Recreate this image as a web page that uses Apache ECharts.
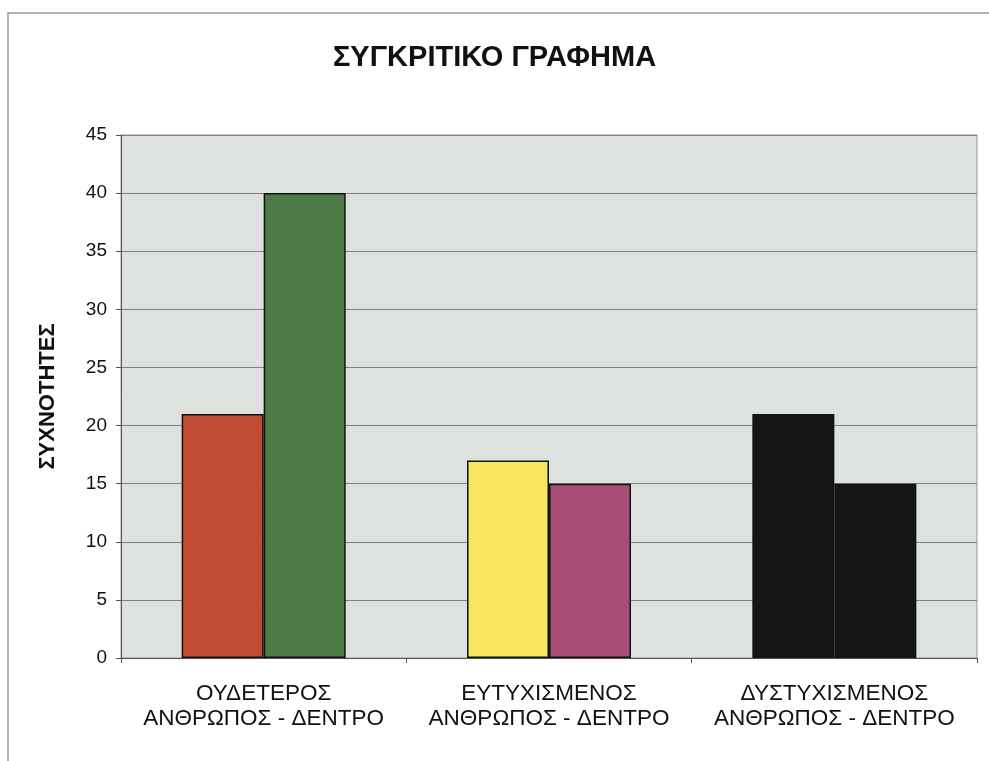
<!DOCTYPE html>
<html>
<head>
<meta charset="utf-8">
<script src="https://cdn.jsdelivr.net/npm/echarts@6/dist/echarts.min.js"></script>
<style>
  html, body { margin: 0; padding: 0; background: #fff; }
  #chart { width: 989px; height: 761px; }
</style>
</head>
<body>
<div id="chart"></div>
<script>
const categories = ['ΟΥΔΕΤΕΡΟΣ\nΑΝΘΡΩΠΟΣ - ΔΕΝΤΡΟ', 'ΕΥΤΥΧΙΣΜΕΝΟΣ\nΑΝΘΡΩΠΟΣ - ΔΕΝΤΡΟ', 'ΔΥΣΤΥΧΙΣΜΕΝΟΣ\nΑΝΘΡΩΠΟΣ - ΔΕΝΤΡΟ'];
const humanValues = [21, 17, 21];
const treeValues = [40, 15, 15];
const humanColors = ['#c24b33', '#f7e65e', '#161616'];
const treeColors = ['#4d7a47', '#a94d78', '#161616'];

var chart = echarts.init(document.getElementById('chart'));
var option = {
    backgroundColor: '#fff',
    title: {
        text: 'ΣΥΓΚΡΙΤΙΚΟ ΓΡΑΦΗΜΑ',
        left: 'center',
        top: 38,
        textStyle: { fontFamily: 'Liberation Sans', fontWeight: 'bold', fontSize: 29, color: '#111' }
    },
    graphic: [{
        type: 'rect',
        shape: { x: 8, y: 13, width: 990, height: 760 },
        style: { fill: 'none', stroke: '#999', lineWidth: 1.5 },
        silent: true
    }],
    grid: { left: 121, right: 12, top: 135, bottom: 103, show: true, backgroundColor: '#dee2de', borderColor: '#999', borderWidth: 1 },
    xAxis: {
        type: 'category',
        data: categories,
        axisLine: { lineStyle: { color: '#555', width: 1 } },
        axisTick: { show: true, length: 5, lineStyle: { color: '#555' } },
        axisLabel: { interval: 0, fontFamily: 'Liberation Sans', fontSize: 22.5, color: '#111', margin: 23, lineHeight: 25 }
    },
    yAxis: {
        type: 'value',
        min: 0,
        max: 45,
        interval: 5,
        name: 'ΣΥΧΝΟΤΗΤΕΣ',
        nameLocation: 'middle',
        nameGap: 62,
        nameTextStyle: { fontFamily: 'Liberation Sans', fontWeight: 'bold', fontSize: 22, color: '#111' },
        axisLine: { show: true, lineStyle: { color: '#555', width: 1 } },
        axisTick: { show: true, length: 5, lineStyle: { color: '#555' } },
        axisLabel: { fontFamily: 'Liberation Sans', fontSize: 19, color: '#111', margin: 14 },
        splitLine: { lineStyle: { color: '#808080', width: 1 } }
    },
    series: [
        {
            type: 'bar',
            data: humanValues.map((v, i) => ({ value: v, itemStyle: { color: humanColors[i] } })),
            barWidth: 82,
            barGap: '0%',
            itemStyle: { borderColor: '#111', borderWidth: 1.5 }
        },
        {
            type: 'bar',
            data: treeValues.map((v, i) => ({ value: v, itemStyle: { color: treeColors[i] } })),
            barWidth: 82,
            barGap: '0%',
            itemStyle: { borderColor: '#111', borderWidth: 1.5 }
        }
    ]
};
chart.setOption(option);
</script>
</body>
</html>
